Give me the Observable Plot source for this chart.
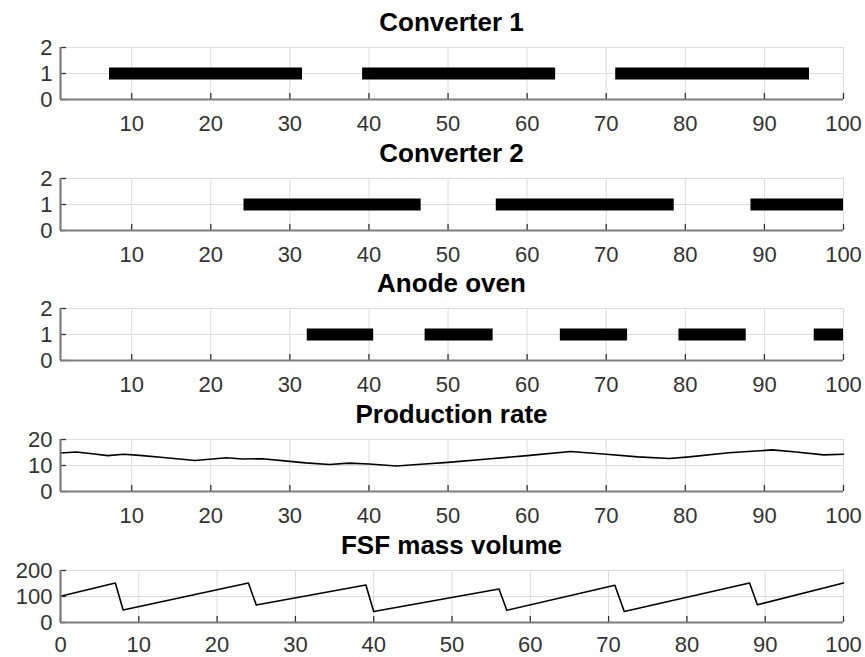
<!DOCTYPE html>
<html><head><meta charset="utf-8">
<script src="https://cdn.jsdelivr.net/npm/d3@7"></script>
<script src="https://cdn.jsdelivr.net/npm/@observablehq/plot@0.6"></script>
<style>
body{margin:0;background:#fff;font-family:"Liberation Sans",Arial,sans-serif;}
#chart{position:relative;width:865px;height:657px;background:#fff;overflow:hidden;}
.title{position:absolute;left:60px;width:783px;text-align:center;font-weight:bold;font-size:26px;color:#000;line-height:26px;white-space:nowrap;}
.panel{position:absolute;left:0;}
</style></head><body><div id="chart"></div>
<script>
// ---- data ----
const titles = ["Converter 1", "Converter 2", "Anode oven", "Production rate", "FSF mass volume"];

const conv1Start = [7.2, 39.2, 71.2];
const conv1End   = [31.6, 63.6, 95.7];
const conv2Start = [24.2, 56.1, 88.3];
const conv2End   = [46.6, 78.6, 100];
const anodeStart = [32.2, 47.1, 64.2, 79.2, 96.3];
const anodeEnd   = [40.6, 55.7, 72.7, 87.7, 100];

const prodX = [1, 3, 5, 7, 9, 11, 14, 18, 22, 24, 26.5, 30, 32, 35, 37.5, 40, 43.5, 47, 50, 55, 60, 65.5, 70, 74, 78, 80.5, 85.5, 91, 94, 97.5, 100];
const prodY = [14.8, 15.2, 14.5, 13.8, 14.3, 13.9, 13.1, 11.9, 13.0, 12.5, 12.6, 11.6, 11.0, 10.4, 10.9, 10.6, 9.8, 10.6, 11.2, 12.5, 13.8, 15.4, 14.3, 13.3, 12.7, 13.3, 14.9, 16.0, 15.2, 14.1, 14.3];

const fsfX = [0, 7, 8, 24, 25, 39, 40, 56, 57, 70.8, 72, 88, 89, 100];
const fsfY = [101, 152, 48, 152, 67, 144, 42, 129, 47, 143, 42, 152, 68, 152];

const xTicks = [10, 20, 30, 40, 50, 60, 70, 80, 90, 100];
const fsfXTicks = [0, 10, 20, 30, 40, 50, 60, 70, 80, 90, 100];
const stateYTicks = [0, 1, 2];
const prodYTicks = [0, 10, 20];
const fsfYTicks = [0, 100, 200];

// ---- layout ----
const plotTops = [47, 178, 308, 439, 570];
const plotH = 52, mt = 12, mb = 35;
const chart = document.getElementById("chart");

function intervals(starts, ends) {
  return starts.map((s, i) => ({s, e: ends[i]}));
}
function series(xs, ys) {
  return xs.map((x, i) => ({x, y: ys[i]}));
}

function panel(i, xDomain, xT, yDomain, yT, dataMarks, pad) {
  const t = document.createElement("div");
  t.className = "title";
  t.style.top = (plotTops[i] - 25.5 - 12.7) + "px";
  t.textContent = titles[i];
  chart.appendChild(t);

  const ySpan = yDomain[1] - yDomain[0];
  const xSpan = xDomain[1] - xDomain[0];
  const tickLenY = ySpan * 6 / plotH;   // ~6px inward ticks on bottom axis
  const tickLenX = xSpan * 6 / 783;     // ~6px inward ticks on left axis

  const svg = Plot.plot({
    width: 865, height: plotH + mt + mb,
    marginLeft: 60, marginRight: 22, marginTop: mt, marginBottom: mb,
    style: {fontFamily: "'Liberation Sans', Arial, sans-serif", fontSize: "22px", color: "#333", background: "transparent", overflow: "visible"},
    x: {domain: xDomain},
    y: {domain: yDomain},
    marks: [
      Plot.gridX({ticks: xT, stroke: "#dcdcdc", strokeOpacity: 1}),
      Plot.gridY({ticks: yT, stroke: "#dcdcdc", strokeOpacity: 1}),
      ...dataMarks,
      Plot.ruleX(xT, {x: d => d, y1: yDomain[0], y2: yDomain[0] + tickLenY, stroke: "#333", strokeWidth: 1.3}),
      Plot.ruleY(yT, {y: d => d, x1: xDomain[0], x2: xDomain[0] + tickLenX, stroke: "#333", strokeWidth: 1.3}),
      Plot.ruleY([yDomain[0]], {stroke: "#7d7d7d", strokeWidth: 2.2}),
      Plot.ruleX([xDomain[0]], {stroke: "#7d7d7d", strokeWidth: 2.2}),
      Plot.axisX({ticks: xT, tickSize: 0, tickPadding: pad, label: null, tickFormat: d => String(d)}),
      Plot.axisY({ticks: yT, tickSize: 0, tickPadding: 8, label: null, tickFormat: d => String(d)})
    ]
  });
  svg.classList.add("panel");
  svg.style.top = (plotTops[i] - mt) + "px";
  chart.appendChild(svg);
}

function bars(starts, ends) {
  return [Plot.ruleY(intervals(starts, ends), {y: () => 1, x1: "s", x2: "e", stroke: "black", strokeWidth: 12})];
}

panel(0, [1, 100], xTicks, [0, 2], stateYTicks, bars(conv1Start, conv1End), 16);
panel(1, [1, 100], xTicks, [0, 2], stateYTicks, bars(conv2Start, conv2End), 16);
panel(2, [1, 100], xTicks, [0, 2], stateYTicks, bars(anodeStart, anodeEnd), 16);
panel(3, [1, 100], xTicks, [0, 20], prodYTicks,
  [Plot.line(series(prodX, prodY), {x: "x", y: "y", stroke: "black", strokeWidth: 1.6})], 16);
panel(4, [0, 100], fsfXTicks, [0, 200], fsfYTicks,
  [Plot.line(series(fsfX, fsfY), {x: "x", y: "y", stroke: "black", strokeWidth: 1.6})], 14);
</script></body></html>
